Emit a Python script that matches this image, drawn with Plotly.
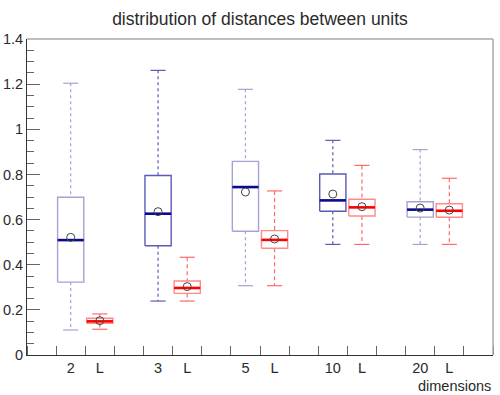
import plotly.graph_objects as go

# ---- data ----
groups = ["2", "3", "5", "10", "20"]

# blue: full units
u_lower  = [0.111, 0.239, 0.307, 0.490, 0.490]
u_q1     = [0.323, 0.484, 0.548, 0.637, 0.611]
u_median = [0.509, 0.626, 0.744, 0.685, 0.644]
u_q3     = [0.699, 0.795, 0.858, 0.802, 0.679]
u_upper  = [1.204, 1.261, 1.177, 0.951, 0.910]
u_mean   = [0.521, 0.635, 0.722, 0.713, 0.651]

# red: "L"
l_lower  = [0.114, 0.239, 0.307, 0.490, 0.490]
l_q1     = [0.140, 0.273, 0.473, 0.616, 0.610]
l_median = [0.149, 0.297, 0.510, 0.654, 0.639]
l_q3     = [0.163, 0.328, 0.551, 0.690, 0.670]
l_upper  = [0.182, 0.433, 0.727, 0.840, 0.783]
l_mean   = [0.152, 0.303, 0.514, 0.657, 0.642]

title = "distribution of distances between units"
x_title = "dimensions"

# ---- styles ----
FONT = "Liberation Sans, Arial, Helvetica, sans-serif"
BOX_W = 0.9
CAP_W = 0.52
blue_box_cols = ["#a3a3d6", "#5a5ab8", "#a3a3d6", "#5a5ab8", "#a3a3d6"]
blue_med = "#0a0a8c"
red_box = "#ff8a8a"
red_med = "#ff0000"
red_whisk = "#ff6a6a"
TXT = "#2a2a2a"
TICK_FS = 14.5

fig = go.Figure()


def add_box(x, lo, q1, med, q3, hi, mean, box_col, med_col, whisk_col, whisk_dash):
    h = BOX_W / 2
    c = CAP_W / 2
    # whiskers (dashed)
    fig.add_trace(go.Scatter(x=[x, x, None, x, x], y=[hi, q3, None, q1, lo],
                             mode="lines", line=dict(color=whisk_col, width=1.2, dash=whisk_dash),
                             hoverinfo="skip", showlegend=False))
    # caps
    fig.add_trace(go.Scatter(x=[x - c, x + c, None, x - c, x + c], y=[hi, hi, None, lo, lo],
                             mode="lines", line=dict(color=whisk_col, width=1.2),
                             hoverinfo="skip", showlegend=False))
    # box
    fig.add_trace(go.Scatter(x=[x - h, x + h, x + h, x - h, x - h], y=[q1, q1, q3, q3, q1],
                             mode="lines", line=dict(color=box_col, width=1.4),
                             hoverinfo="skip", showlegend=False))
    # median
    fig.add_trace(go.Scatter(x=[x - h, x + h], y=[med, med], mode="lines",
                             line=dict(color=med_col, width=2.6),
                             hoverinfo="skip", showlegend=False))
    # mean
    fig.add_trace(go.Scatter(x=[x], y=[mean], mode="markers",
                             marker=dict(symbol="circle-open", size=8, color="#444444",
                                         line=dict(width=1, color="#444444")),
                             hoverinfo="skip", showlegend=False))


tickvals = []
ticktext = []
for i, g in enumerate(groups):
    xb = 3 * i + 1.5
    xr = 3 * i + 2.5
    add_box(xb, u_lower[i], u_q1[i], u_median[i], u_q3[i], u_upper[i], u_mean[i],
            blue_box_cols[i], blue_med, blue_box_cols[i], "3px,3px")
    add_box(xr, l_lower[i], l_q1[i], l_median[i], l_q3[i], l_upper[i], l_mean[i],
            red_box, red_med, red_whisk, "4px,3px")
    tickvals += [xb, xr]
    ticktext += [g, "L"]

fig.update_layout(
    width=500, height=395,
    margin=dict(l=27, r=7, t=39, b=40, autoexpand=False),
    paper_bgcolor="white", plot_bgcolor="white",
    font=dict(family=FONT, size=TICK_FS, color=TXT),
    title=dict(text=title, x=0.52, xanchor="center", y=0.953, yanchor="middle",
               font=dict(family=FONT, size=17.5, color=TXT)),
    showlegend=False,
)

fig.update_xaxes(
    range=[0, 16], showgrid=False, zeroline=False, automargin=False,
    showline=True, linecolor="#333333", linewidth=1,
    tickmode="array", tickvals=tickvals, ticktext=ticktext,
    ticks="", ticklen=0, tickfont=dict(size=TICK_FS, color=TXT),
    minor=dict(tickmode="linear", tick0=0, dtick=1, ticks="inside", ticklen=9,
               tickcolor="#666666", tickwidth=1, showgrid=False),
)
fig.update_yaxes(
    range=[0, 1.4], showgrid=False, zeroline=False, automargin=False,
    showline=True, linecolor="#333333", linewidth=1,
    tickmode="linear", tick0=0, dtick=0.2,
    ticks="inside", ticklen=13, tickcolor="#666666", tickwidth=1,
    tickfont=dict(size=TICK_FS, color=TXT),
    minor=dict(dtick=0.05, ticks="inside", ticklen=7, tickcolor="#666666",
               tickwidth=1, showgrid=False),
)

# frame (top and right)
fig.add_shape(type="line", xref="paper", yref="paper", x0=0, x1=1, y0=1, y1=1,
              line=dict(color="#a8a8a8", width=1.5))
fig.add_shape(type="line", xref="paper", yref="paper", x0=1, x1=1, y0=0, y1=1,
              line=dict(color="#a8a8a8", width=1.5))

fig.add_annotation(text=x_title, xref="paper", yref="paper", x=1, y=0,
                   xanchor="right", yanchor="top", yshift=-21, showarrow=False,
                   font=dict(family=FONT, size=TICK_FS, color=TXT))

fig.write_html("out.html",
               config={"displayModeBar": False},
               post_script="document.body.style.margin='0px';document.body.style.overflow='hidden';")
